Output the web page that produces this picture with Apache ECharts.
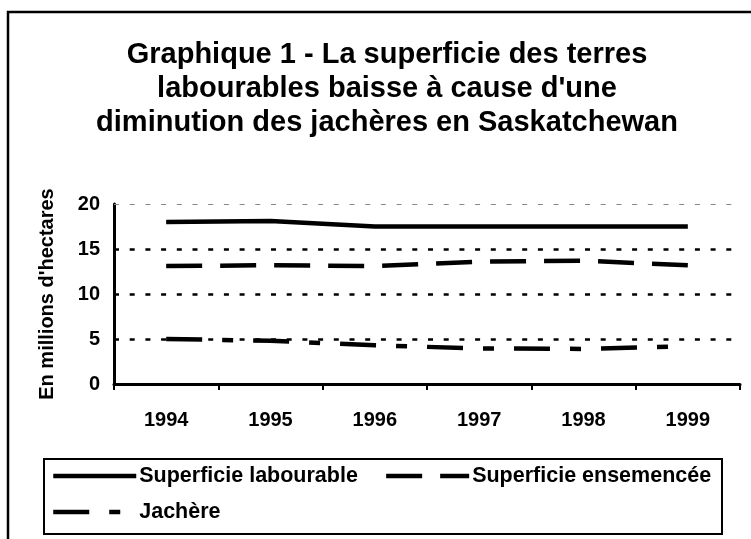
<!DOCTYPE html>
<html lang="fr">

<head>
  <meta charset="UTF-8">
  <title>Graphique 1</title>
  <style>
    * {
      margin: 0;
      padding: 0;
    }

    body {
      background-color: #fff;
    }

    .chart01 {
      width: 751px;
      height: 539px;
    }
  </style>
</head>

<body>
  <div class="chart01"></div>

  <script src="https://cdn.jsdelivr.net/npm/echarts@6/dist/echarts.min.js"></script>
  <script>
    // donnees (millions d'hectares)
    var years = ['1994', '1995', '1996', '1997', '1998', '1999']
    var labourable = [18.0, 18.1, 17.5, 17.5, 17.5, 17.5]
    var ensemencee = [13.1, 13.2, 13.1, 13.6, 13.7, 13.2]
    var jachere = [5.0, 4.8, 4.3, 3.95, 3.9, 4.2]
    var seriesNames = ['Superficie labourable', 'Superficie ensemencée', 'Jachère']

    var font = "'Liberation Sans', Arial, sans-serif"

    var myChart = echarts.init(document.querySelector('.chart01'))

    var option = {
      backgroundColor: '#fff',
      animation: false,
      textStyle: {
        fontFamily: font,
        color: '#000'
      },
      title: {
        text: 'Graphique 1 - La superficie des terres\nlabourables baisse à cause d\'une\ndiminution des jachères en Saskatchewan',
        left: 382,
        top: 33,
        textAlign: 'center',
        textStyle: {
          fontFamily: font,
          fontSize: 29,
          fontWeight: 'bold',
          lineHeight: 34,
          color: '#000'
        }
      },
      graphic: [
        {
          type: 'rect',
          shape: { x: 8, y: 12, width: 780, height: 600 },
          style: { fill: 'none', stroke: '#000', lineWidth: 2.5 }
        },
        {
          type: 'rect',
          shape: { x: 44, y: 459, width: 678, height: 75 },
          style: { fill: 'none', stroke: '#000', lineWidth: 2 }
        }
      ],
      legend: {
        left: 51,
        top: 463,
        width: 690,
        padding: 0,
        itemGap: 10,
        itemWidth: 83,
        itemHeight: 14,
        data: seriesNames,
        itemStyle: { opacity: 0 },
        lineStyle: { width: 4.5 },
        textStyle: {
          fontFamily: font,
          fontSize: 21.5,
          fontWeight: 'bold',
          color: '#000',
          lineHeight: 26,
          padding: [0, 16, 0, -2]
        }
      },
      grid: {
        left: 114,
        right: 11,
        top: 204,
        bottom: 155
      },
      xAxis: {
        type: 'category',
        data: years,
        boundaryGap: true,
        axisLine: { lineStyle: { color: '#000', width: 3 } },
        axisTick: { show: true, length: 6, lineStyle: { color: '#000', width: 2 } },
        axisLabel: {
          margin: 26,
          fontFamily: font,
          fontSize: 20,
          fontWeight: 'bold',
          color: '#000'
        },
        splitLine: { show: false }
      },
      yAxis: {
        type: 'value',
        min: 0,
        max: 20,
        interval: 5,
        name: 'En millions d\'hectares',
        nameLocation: 'middle',
        nameRotate: 90,
        nameGap: 57,
        nameTextStyle: {
          fontFamily: font,
          fontSize: 20,
          fontWeight: 'bold',
          color: '#000'
        },
        axisLine: { show: true, lineStyle: { color: '#000', width: 3 } },
        axisTick: { show: false },
        axisLabel: {
          margin: 14,
          fontFamily: font,
          fontSize: 20,
          fontWeight: 'bold',
          color: '#000'
        },
        splitLine: {
          show: true,
          lineStyle: {
            color: ['transparent', '#000', '#000', '#000', 'transparent'],
            width: 2.5,
            type: [5, 10.7]
          }
        }
      },
      series: [
        {
          name: seriesNames[0],
          type: 'line',
          data: labourable,
          symbol: 'none',
          lineStyle: { color: '#000', width: 4.5, type: 'solid' },
          itemStyle: { color: '#000' },
          markLine: {
            silent: true,
            symbol: 'none',
            label: { show: false },
            lineStyle: { color: '#888', width: 1, type: [5, 10.7] },
            data: [{ yAxis: 20 }]
          }
        },
        {
          name: seriesNames[1],
          type: 'line',
          data: ensemencee,
          symbol: 'none',
          lineStyle: { color: '#000', width: 4.5, type: [36, 18] },
          itemStyle: { color: '#000' }
        },
        {
          name: seriesNames[2],
          type: 'line',
          data: jachere,
          symbol: 'none',
          lineStyle: { color: '#000', width: 4.5, type: [36, 20, 11, 20] },
          itemStyle: { color: '#000' }
        }
      ]
    };

    myChart.setOption(option);
  </script>
</body>

</html>
